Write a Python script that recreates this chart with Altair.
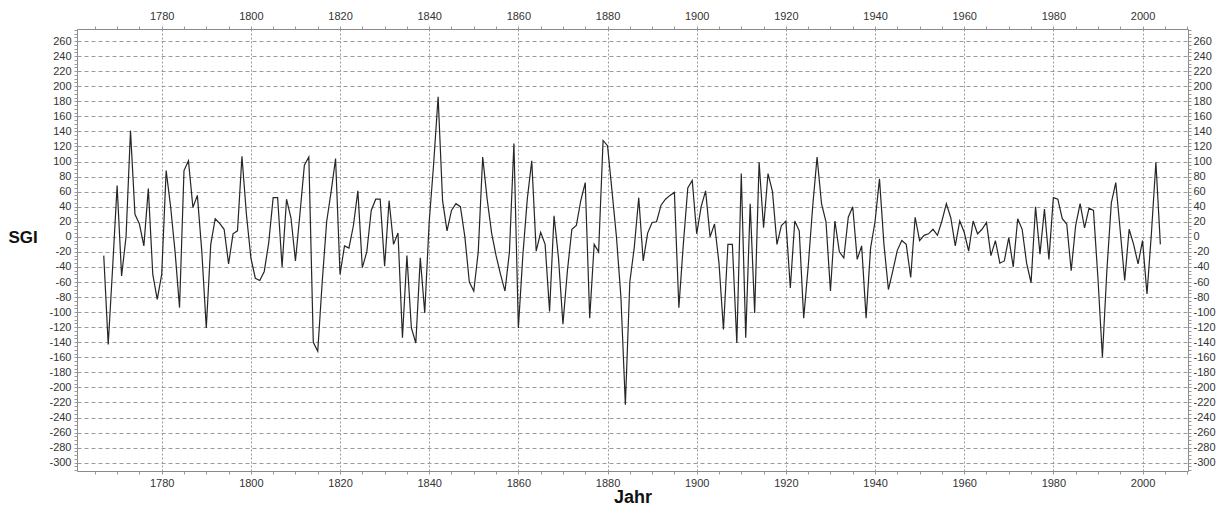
import altair as alt
import pandas as pd

# Yearly SGI values (1767-2004)
start_year = 1767
sgi = [
    -25, -143, -40, 68, -52, 0, 141, 30, 17, -12,          # 1767-1776
    64, -50, -83, -50, 88, 40, -20, -94, 88, 101,           # 1777-1786
    39, 55, -20, -121, -10, 24, 18, 10, -36, 4,             # 1787-1796
    8, 107, 30, -28, -55, -58, -46, -8, 52, 52,             # 1797-1806
    -40, 50, 25, -32, 30, 95, 106, -140, -152, -60,         # 1807-1816
    20, 60, 104, -50, -12, -15, 15, 61, -41, -20,           # 1817-1826
    35, 50, 50, -39, 48, -10, 5, -134, -25, -121,           # 1827-1836
    -141, -28, -101, 20, 97, 186, 48, 8, 35, 44,            # 1837-1846
    40, 0, -60, -72, -20, 106, 50, 5, -25, -50,             # 1847-1856
    -72, -20, 124, -121, -25, 50, 101, -19, 6, -10,         # 1857-1866
    -99, 28, -28, -116, -45, 10, 15, 48, 72, -108,          # 1867-1876
    -10, -20, 128, 121, 61, 0, -80, -223, -60, -14,         # 1877-1886
    52, -32, 5, 19, 20, 42, 50, 55, 59, -94,                # 1887-1896
    -10, 65, 75, 4, 40, 61, 0, 17, -35, -123,               # 1897-1906
    -10, -10, -141, 84, -134, 44, -101, 99, 12, 84,         # 1907-1916
    60, -10, 15, 21, -68, 21, 8, -108, -40, 39,             # 1917-1926
    106, 44, 20, -72, 21, -20, -28, 26, 40, -30,            # 1927-1936
    -12, -108, -15, 20, 77, -10, -70, -45, -18, -5,         # 1937-1946
    -10, -54, 26, -5, 2, 4, 10, 2, 21, 44,                  # 1947-1956
    25, -12, 21, 6, -19, 21, 4, 10, 19, -25,                # 1957-1966
    -5, -35, -32, -1, -40, 24, 10, -35, -61, 40,            # 1967-1976
    -23, 37, -30, 52, 50, 24, 17, -45, 15, 44,              # 1977-1986
    12, 38, 35, -55, -160, -45, 45, 72, 8, -58,             # 1987-1996
    10, -10, -36, -5, -76, 5, 99, -10,                      # 1997-2004
]
years = [start_year + i for i in range(len(sgi))]

x_tick_values = list(range(1765, 2011, 5))
y_tick_values = list(range(-310, 276, 5))

df = pd.DataFrame({"Jahr": years, "SGI": sgi})

FONT = "Liberation Sans"
X_DOMAIN = [1761, 2010.2]
Y_DOMAIN = [-311, 276]

x_major = "datum.value % 20 === 0"
y_major = "datum.value % 20 === 0 && datum.value >= -300 && datum.value <= 260"

x_scale = alt.Scale(domain=X_DOMAIN, nice=False, zero=False)
y_scale = alt.Scale(domain=Y_DOMAIN, nice=False, zero=False)

base = alt.Chart(df)

main = base.mark_line(color="#262626", strokeWidth=1.2).encode(
    x=alt.X(
        "Jahr:Q",
        scale=x_scale,
        axis=alt.Axis(
            orient="bottom",
            values=x_tick_values,
            labelExpr=f"{x_major} ? toString(datum.value) : ''",
            labelFont=FONT, labelFontSize=11, labelColor="#333",
            labelPadding=3, tickSize=3, tickColor="#999", domain=False,
            grid=True, gridColor="#9a9a9a", gridDash=[2, 2],
            gridOpacity={"condition": {"test": x_major, "value": 1}, "value": 0},
            title="Jahr", titleFont=FONT, titleFontSize=18, titleFontWeight="bold",
            titleColor="#111", titleY=17, titleBaseline="top",
        ),
    ),
    y=alt.Y(
        "SGI:Q",
        scale=y_scale,
        axis=alt.Axis(
            orient="left",
            values=y_tick_values,
            labelExpr=f"{y_major} ? toString(datum.value) : ''",
            labelFont=FONT, labelFontSize=11, labelColor="#333",
            labelPadding=3, tickSize=3, tickColor="#999", domain=False,
            grid=True, gridColor="#9a9a9a", gridDash=[4, 3],
            gridOpacity={"condition": {"test": y_major, "value": 1}, "value": 0},
            title="SGI", titleFont=FONT, titleFontSize=17, titleFontWeight="bold",
            titleColor="#111", titleAngle=0, titleX=-69, titleY=208,
            titleAlign="left", titleBaseline="middle",
        ),
    ),
)

mirror = base.mark_line(opacity=0).encode(
    x=alt.X(
        "Jahr:Q",
        scale=x_scale,
        axis=alt.Axis(
            orient="top",
            values=x_tick_values,
            labelExpr=f"{x_major} ? toString(datum.value) : ''",
            labelFont=FONT, labelFontSize=11, labelColor="#333",
            labelPadding=5, tickSize=3, tickColor="#999", domain=False,
            grid=False, title=None,
        ),
    ),
    y=alt.Y(
        "SGI:Q",
        scale=y_scale,
        axis=alt.Axis(
            orient="right",
            values=y_tick_values,
            labelExpr=f"{y_major} ? toString(datum.value) : ''",
            labelFont=FONT, labelFontSize=11, labelColor="#333",
            labelPadding=2, tickSize=3, tickColor="#999", domain=False,
            grid=False, title=None,
        ),
    ),
)

chart = (
    alt.layer(main, mirror)
    .resolve_scale(x="independent", y="independent")
    .properties(
        width=1111,
        height=442,
        autosize=alt.AutoSizeParams(type="none"),
        padding={"left": 77, "top": 29, "right": 36, "bottom": 42},
        background="white",
    )
    .configure_view(stroke="#8a8a8a", strokeWidth=1)
)

chart.save("out.html", embed_options={"renderer": "svg", "actions": False})
